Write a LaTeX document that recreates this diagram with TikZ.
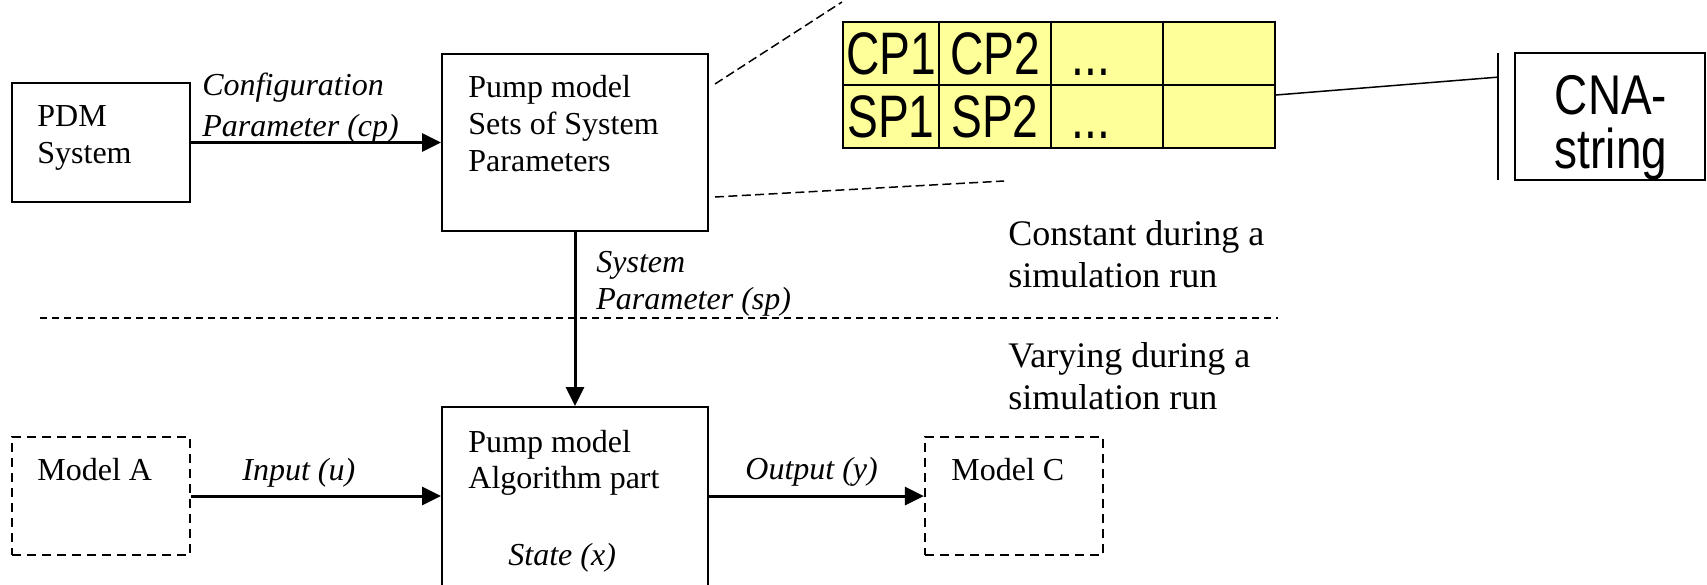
\documentclass[tikz,border=0pt]{standalone}
\usepackage{fontspec}
\usepackage{graphicx}
\setmainfont{Liberation Serif}
\newfontfamily\sansfam{Liberation Sans}
\usetikzlibrary{arrows.meta,calc}
\definecolor{cellyellow}{RGB}{255,255,153}
% condensed sans text for the parameter table and the CNA box
\newcommand\slimtext[1]{\scalebox{0.77}[1]{#1}}
\newcommand\cnatext[1]{\scalebox{0.82}[1]{#1}}

\begin{document}
\begin{tikzpicture}[x=0.5pt,y=-0.5pt,
  box/.style={draw,line width=1pt,inner sep=0pt},
  dashbox/.style={box,line width=1.1pt,dash pattern=on 4.5pt off 3pt},
  txt/.style={inner sep=0pt,anchor=base west,font=\fontsize{16}{19}\selectfont},
  itxt/.style={inner sep=0pt,anchor=base west,font=\fontsize{16}{19}\selectfont\itshape},
  note/.style={inner sep=0pt,anchor=base west,font=\fontsize{18}{21}\selectfont},
  cell/.style={draw,line width=1pt,fill=cellyellow,inner sep=0pt,minimum height=31.5pt,
    font=\sansfam\fontsize{30}{36}\selectfont},
  bigsans/.style={inner sep=0pt,anchor=base,font=\sansfam\fontsize{30}{36}\selectfont},
  cnasans/.style={inner sep=0pt,anchor=base,font=\sansfam\fontsize{28}{32}\selectfont},
  flow/.style={line width=1.5pt,-{Triangle[length=9.5pt,width=9pt]}},
  guide/.style={line width=0.75pt,dash pattern=on 4.5pt off 2.2pt},
  divider/.style={line width=0.6pt,dash pattern=on 3.5pt off 2.5pt}]

\useasboundingbox (0,0) rectangle (1707,584);
\clip (0,0) rectangle (1707,584);

% ---- blocks
\node[box,minimum width=89pt,minimum height=59.5pt] (pdm) at (101,142.5) {};
\node[box,minimum width=133pt,minimum height=88.5pt] (pump1) at (575,142.5) {};
\node[box,minimum width=133pt,minimum height=106.5pt] (pump2) at (575,513.5) {};
\node[dashbox,minimum width=89pt,minimum height=59pt] (modelA) at (101,496) {};
\node[dashbox,minimum width=89pt,minimum height=59pt] (modelC) at (1014,496) {};
\node[box,minimum width=95pt,minimum height=63.5pt] (cna) at (1610,116.5) {};

% ---- parameter table
\node[cell,minimum width=48pt] (cp1) at (891,53.5) {\slimtext{CP1}};
\node[cell,minimum width=56pt] (cp2) at (995,53.5) {\slimtext{CP2}};
\node[cell,minimum width=56pt] (cp3) at (1107,53.5) {};
\node[cell,minimum width=56pt] (cp4) at (1219,53.5) {};
\node[cell,minimum width=48pt] (sp1) at (891,116.5) {\slimtext{SP1}};
\node[cell,minimum width=56pt] (sp2) at (995,116.5) {\slimtext{SP2}};
\node[cell,minimum width=56pt] (sp3) at (1107,116.5) {};
\node[cell,minimum width=56pt] (sp4) at (1219,116.5) {};
\node[bigsans] (cpdots) at (1091,75) {\slimtext{...}};
\node[bigsans] (spdots) at (1091,138) {\slimtext{...}};

% ---- CNA string
\node[cnasans] (cnaA) at (1611,114) {\cnatext{CNA-}};
\node[cnasans] (cnaB) at (1611,168) {\cnatext{string}};
\coordinate (barTop) at (1498,53);
\coordinate (barBot) at (1498,180);
\draw[line width=1pt] (barTop) -- (barBot);
\draw[line width=0.75pt] ([yshift=-5.5pt]sp4.north east) -- ($(barTop)!0.19!(barBot)$);

% ---- zoom guides from the parameter block to the table
\coordinate (zoomA) at (715,84);
\coordinate (zoomB) at (842,2);
\coordinate (zoomC) at (715,197);
\coordinate (zoomD) at (1004,181);
\draw[guide] (zoomA) -- (zoomB);
\draw[guide] (zoomC) -- (zoomD);

% ---- constant / varying divider
\coordinate (sepL) at (40,318);
\coordinate (sepR) at (1278,318);
\draw[divider] (sepL) -- (sepR);

% ---- signal flow
\draw[flow] (pdm.east) -- (pump1.west);
\draw[flow] (pump1.south) -- (pump2.north);
\draw[flow] (modelA.east) -- (modelA.east -| pump2.west);
\draw[flow] (pump2.east |- modelC.west) -- (modelC.west);

% ---- texts
\node[txt] (pdmA) at (37,126) {PDM};
\node[txt] (pdmB) at (37,163) {System};
\node[itxt] (cpA) at (202,95) {Configuration};
\node[itxt] (cpB) at (202,136) {Parameter (cp)};
\node[txt] (p1a) at (468,97) {Pump model};
\node[txt] (p1b) at (468,134) {Sets of System};
\node[txt] (p1c) at (468,171) {Parameters};
\node[itxt] (spA) at (596,272) {System};
\node[itxt] (spB) at (596,309) {Parameter (sp)};
\node[note] (cA) at (1008,245) {Constant during a};
\node[note] (cB) at (1008,287) {simulation run};
\node[note] (vA) at (1008,367) {Varying during a};
\node[note] (vB) at (1008,409) {simulation run};
\node[txt] (mA) at (37,480) {Model A};
\node[itxt] (inL) at (242,480) {Input (u)};
\node[txt] (p2a) at (468,452) {Pump model};
\node[txt] (p2b) at (468,488) {Algorithm part};
\node[itxt] (st) at (508,565) {State (x)};
\node[itxt] (outL) at (745,479) {Output (y)};
\node[txt] (mC) at (951,480) {Model C};
\end{tikzpicture}
\end{document}
